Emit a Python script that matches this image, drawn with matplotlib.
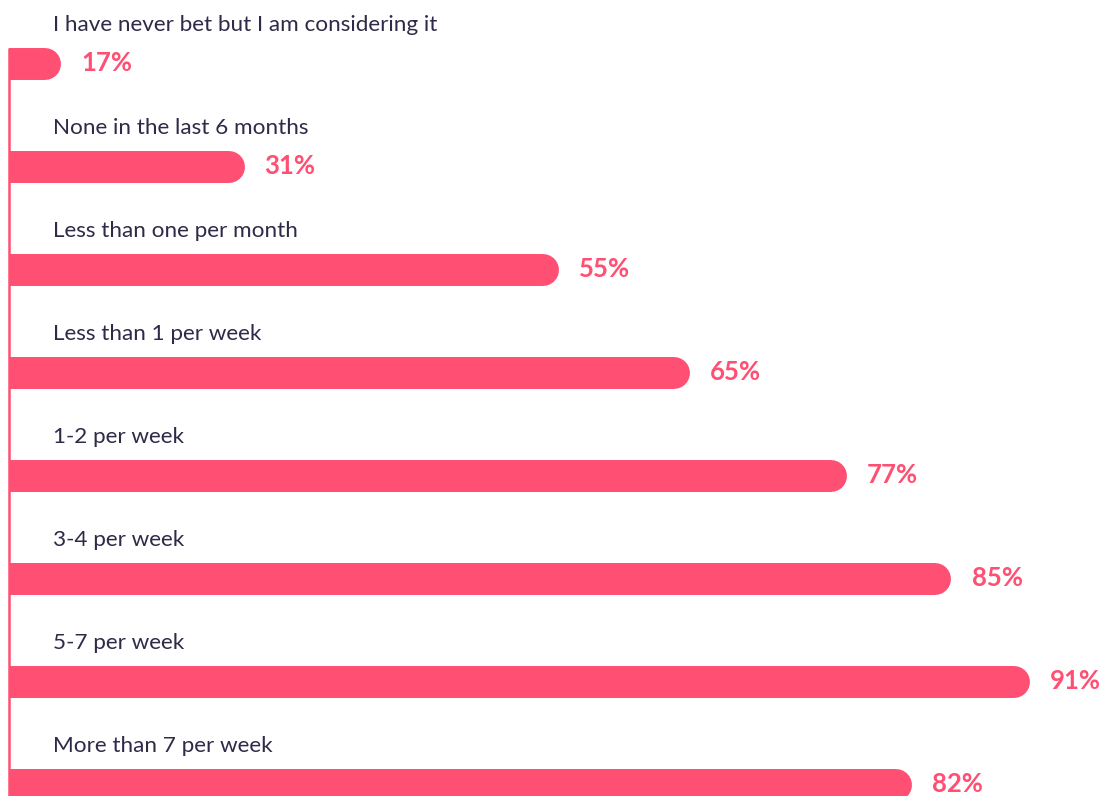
import matplotlib
matplotlib.use('Agg')
import matplotlib.pyplot as plt
from matplotlib.transforms import blended_transform_factory

categories = ['I have never bet but I am considering it',
              'None in the last 6 months',
              'Less than one per month',
              'Less than 1 per week',
              '1-2 per week',
              '3-4 per week',
              '5-7 per week',
              'More than 7 per week']
values = [17, 31, 55, 65, 77, 85, 91, 82]

pink = '#ff4f72'
ink = '#2e2a47'

plt.rcParams['font.family'] = ['Lato', 'DejaVu Sans']

W, H = 1115, 796
left_px = 8.5
fig = plt.figure(figsize=(W / 100, H / 100), dpi=100)
# axes start at the guide line so the bars grow out of it
ax = fig.add_axes([left_px / W, 0, 1 - left_px / W, 1])
ax.set_xlim(12.97, 97.5)
ax.set_ylim(7.107, -0.621)
ax.axis('off')

# bar thickness in points, and the round cap radius in data units
bar_lw = 23.0
px_per_unit = (W - left_px) / (97.5 - 12.97)
cap = (bar_lw / 2 * fig.dpi / 72) / px_per_unit

lab_tf = blended_transform_factory(fig.transFigure, ax.transData)
for i, (cat, v) in enumerate(zip(categories, values)):
    ax.plot([0, v - cap], [i, i], color=pink, lw=bar_lw,
            solid_capstyle='round')
    ax.text(53 / W, i - 0.32, cat, transform=lab_tf, fontsize=16.2,
            color=ink, va='baseline', ha='left')
    ax.annotate(f'{v}%', (v, i), xytext=(14.5, 1), textcoords='offset points',
                fontsize=18.5, fontweight='bold', color=pink,
                va='center', ha='left', annotation_clip=False)

# left guide line
ax.axvline(12.97, ymin=0, ymax=1 - 48 / H, color=pink, lw=1.8,
           solid_capstyle='butt', clip_on=False)

fig.savefig('out.png', dpi=100)
